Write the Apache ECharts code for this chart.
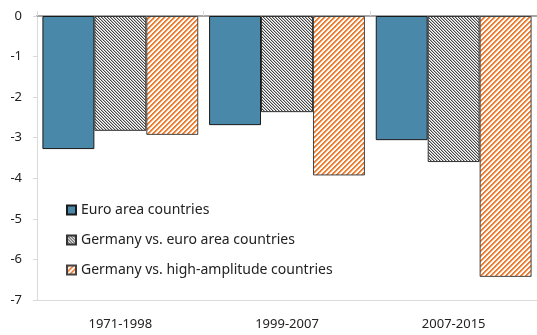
<!DOCTYPE html>
<html>
<head>
<meta charset="utf-8">
<script src="https://cdn.jsdelivr.net/npm/echarts@6/dist/echarts.min.js"></script>
<style>
html,body{margin:0;padding:0;background:#fff;}
#c{width:537px;height:335px;}
</style>
</head>
<body>
<div id="c"></div>
<script>
var categories = ['1971-1998', '1999-2007', '2007-2015'];
var seriesNames = ['Euro area countries', 'Germany vs. euro area countries', 'Germany vs. high-amplitude countries'];
var euroArea = [-3.28, -2.69, -3.06];
var germanyVsEuro = [-2.83, -2.37, -3.60];
var germanyVsHigh = [-2.93, -3.93, -6.43];
var yTicks = [0, -1, -2, -3, -4, -5, -6, -7];

function makeTile(size, fn) {
  var cv = document.createElement('canvas');
  cv.width = size; cv.height = size;
  var ctx = cv.getContext('2d');
  var img = ctx.createImageData(size, size);
  for (var y = 0; y < size; y++) {
    for (var x = 0; x < size; x++) {
      var c = fn(x, y);
      var i = (y * size + x) * 4;
      img.data[i] = c[0]; img.data[i + 1] = c[1]; img.data[i + 2] = c[2]; img.data[i + 3] = 255;
    }
  }
  ctx.putImageData(img, 0, 0);
  return cv;
}
var grayTile = makeTile(3, function (x, y) {
  var k = ((x - y) % 3 + 3) % 3;
  if (k === 0) return [70, 70, 70];
  if (k === 1) return [185, 185, 185];
  return [255, 255, 255];
});
var orangeTile = makeTile(5, function (x, y) {
  var k = (x + y) % 5;
  if (k === 0 || k === 1) return [237, 125, 49];
  if (k === 2) return [248, 196, 160];
  return [255, 255, 255];
});

var chart = echarts.init(document.getElementById('c'), null, {renderer: 'canvas'});
var font = 'Noto Sans';
chart.setOption({
  animation: false,
  backgroundColor: '#ffffff',
  grid: {left: 37, right: -7, top: 16, bottom: 35, containLabel: false},
  legend: {
    orient: 'vertical',
    left: 66, top: 203, padding: 0,
    itemWidth: 9, itemHeight: 9, itemGap: 16,
    icon: 'rect',
    textStyle: {fontFamily: font, fontSize: 14, color: '#222'},
    data: seriesNames
  },
  xAxis: [
    {
      type: 'category', data: categories, position: 'bottom',
      axisLine: {onZero: false, lineStyle: {color: '#d9d9d9', width: 1}},
      axisTick: {show: false},
      axisLabel: {fontFamily: font, fontSize: 13, color: '#222', margin: 18},
      splitLine: {show: false}
    },
    {
      type: 'category', data: categories, position: 'top',
      axisLine: {onZero: false, lineStyle: {color: '#a6a6a6', width: 2}},
      axisTick: {show: true, length: 5, lineStyle: {color: '#d9d9d9'}},
      axisLabel: {show: false},
      splitLine: {show: false}
    }
  ],
  yAxis: {
    type: 'value', min: -7, max: 0, interval: 1,
    axisLine: {show: true, lineStyle: {color: '#d9d9d9', width: 1}},
    axisTick: {show: true, length: 4, lineStyle: {color: '#d9d9d9'}},
    axisLabel: {fontFamily: font, fontSize: 13, color: '#222', margin: 15,
      formatter: function (v) { return yTicks.indexOf(v) >= 0 ? String(v) : ''; }},
    splitLine: {show: false}
  },
  series: [
    {name: seriesNames[0], type: 'bar', data: euroArea, barGap: '0%', barCategoryGap: '6.5%',
      itemStyle: {color: '#4a88a9', borderColor: '#1a1a1a', borderWidth: 1}},
    {name: seriesNames[1], type: 'bar', data: germanyVsEuro, barGap: '0%', barCategoryGap: '6.5%',
      itemStyle: {color: {image: grayTile, repeat: 'repeat'}, borderColor: '#333333', borderWidth: 1}},
    {name: seriesNames[2], type: 'bar', data: germanyVsHigh, barGap: '0%', barCategoryGap: '6.5%',
      itemStyle: {color: {image: orangeTile, repeat: 'repeat'}, borderColor: '#444444', borderWidth: 1}}
  ]
});
</script>
</body>
</html>
